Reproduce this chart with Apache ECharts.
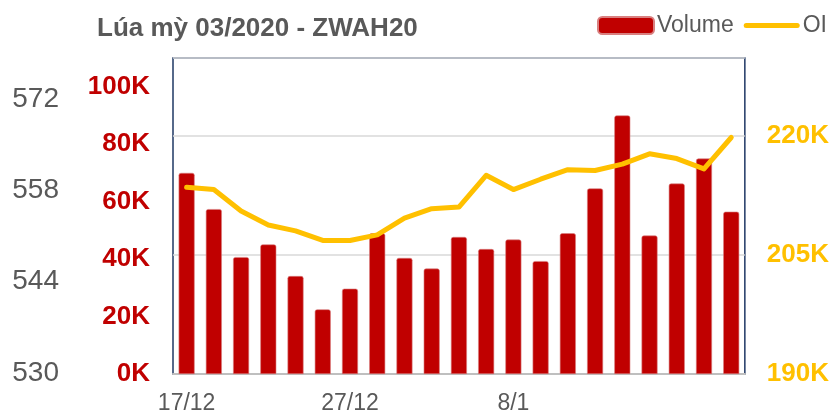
<!DOCTYPE html>
<html><head><meta charset="utf-8">
<script src="https://cdn.jsdelivr.net/npm/echarts@6/dist/echarts.min.js"></script>
<style>html,body{margin:0;padding:0;background:#fff}#c{width:832px;height:415px}</style>
</head><body><div id="c"></div>
<script>
var categories = ["17/12","18/12","19/12","20/12","23/12","24/12","27/12","30/12","31/12","2/1","3/1","6/1","8/1","9/1","10/1","13/1","14/1","15/1","16/1","17/1","20/1"];
var volume = [70000,57400,40700,45100,34100,22500,29700,49000,40400,36700,47700,43500,46800,39300,49000,64600,90000,48200,66300,75000,56500];
var oi = [213500,213200,210500,208750,208000,206800,206800,207500,209600,210800,211000,215000,213200,214500,215700,215600,216400,217700,217100,215800,219750];
var shownLabels = [0,6,12];
var grayTicks = [530,544,558,572];

var chart = echarts.init(document.getElementById('c'));
var FONT = 'Liberation Sans, Arial, sans-serif';
chart.setOption({
  animation: false,
  title: {text: 'Lúa mỳ 03/2020 - ZWAH20', left: 92, top: 11,
    textStyle: {fontFamily: FONT, fontSize: 26, fontWeight: 'bold', color: '#595959'}},
  legend: {left: 597, top: 14, padding: 0, width: 400, itemWidth: 56, itemHeight: 17, itemGap: 10,
    textStyle: {fontFamily: FONT, fontSize: 23, color: '#595959', padding: [0,0,0,-2]},
    data: [{name: 'Volume', icon: 'roundRect'},
           {name: 'OI', icon: 'path://M2.5,0 L53.5,0 A2.5,2.5 0 0 1 53.5,5 L2.5,5 A2.5,2.5 0 0 1 2.5,0 Z'}]},
  grid: [
    {left: 173, right: 87, top: 58, bottom: 39, show: true, borderColor: '#1F3864', borderWidth: 1.5},
    {left: 173, right: 87, top: 99, bottom: 42, show: false}
  ],
  xAxis: [
    {type: 'category', data: categories, gridIndex: 0, boundaryGap: true,
      axisLine: {lineStyle: {color: '#BFBFBF', width: 2}}, axisTick: {show: false},
      axisLabel: {fontFamily: FONT, fontSize: 23, color: '#595959', margin: 18,
        interval: function (i) { return shownLabels.indexOf(i) >= 0; }}},
    {type: 'category', data: categories, gridIndex: 1, show: false}
  ],
  yAxis: [
    {type: 'value', gridIndex: 0, position: 'left', min: 0, max: 110000, interval: 20000,
      axisLine: {show: false}, axisTick: {show: false}, splitLine: {show: false},
      axisLabel: {showMaxLabel: false, fontFamily: FONT, fontSize: 26, fontWeight: 'bold', color: '#C00000', margin: 23,
        formatter: function (v) { return (v / 1000) + 'K'; }}},
    {type: 'value', gridIndex: 0, position: 'right', min: 190000, max: 229750, interval: 15000,
      axisLine: {show: false}, axisTick: {show: false},
      splitLine: {lineStyle: {color: '#D9D9D9', width: 1.5}},
      axisLabel: {showMaxLabel: false, fontFamily: FONT, fontSize: 26, fontWeight: 'bold', color: '#FFC000', margin: 22,
        formatter: function (v) { return (v / 1000) + 'K'; }}},
    {type: 'value', gridIndex: 1, position: 'left', min: grayTicks[0], max: grayTicks[grayTicks.length-1], interval: 14, offset: 106,
      axisLine: {show: false}, axisTick: {show: false}, splitLine: {show: false},
      axisLabel: {fontFamily: FONT, fontSize: 28, color: '#595959', margin: 8}}
  ],
  series: [
    {name: 'Volume', type: 'bar', data: volume, xAxisIndex: 0, yAxisIndex: 0, barWidth: 16,
      itemStyle: {color: '#C00000', borderRadius: [2,2,0,0], borderColor: '#D98080', borderWidth: 0.6}},
    {name: 'OI', type: 'line', data: oi, xAxisIndex: 0, yAxisIndex: 1, symbol: 'none', z: 5,
      lineStyle: {color: '#FFC000', width: 5, cap: 'round', join: 'round'}, itemStyle: {color: '#FFC000'}}
  ]
});
</script></body></html>
